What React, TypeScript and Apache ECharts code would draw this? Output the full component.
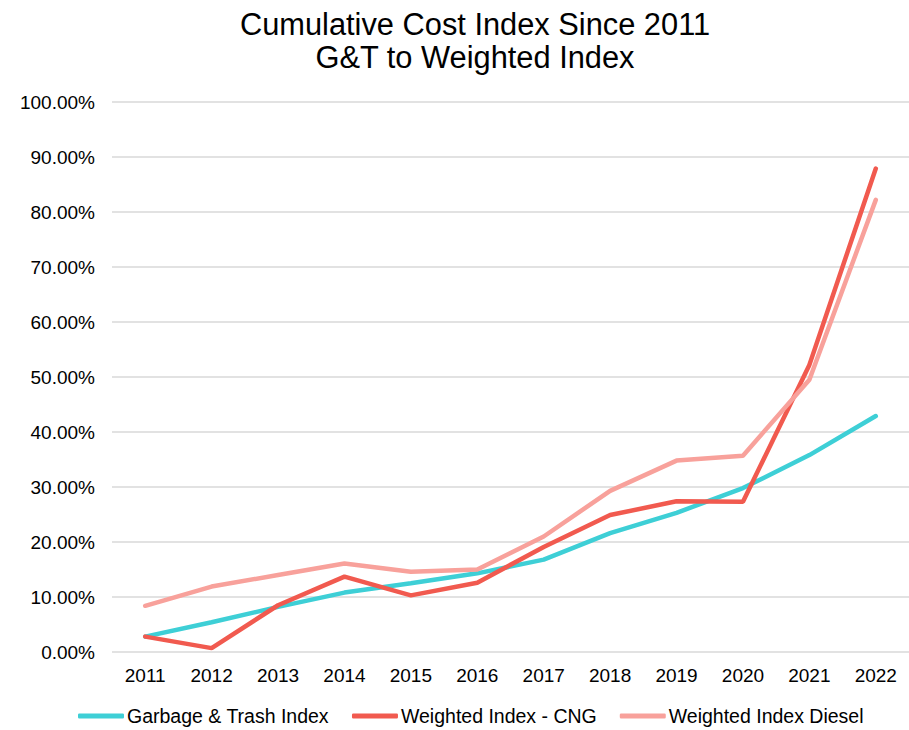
import React, { useEffect, useRef } from "react";
import * as echarts from "echarts";

const years = ["2011","2012","2013","2014","2015","2016","2017","2018","2019","2020","2021","2022"];
const garbage = [2.8, 5.4, 8.2, 10.8, 12.5, 14.3, 16.8, 21.6, 25.3, 29.8, 35.8, 42.9];
const cng = [2.8, 0.7, 8.5, 13.7, 10.3, 12.6, 19.1, 24.9, 27.4, 27.3, 52.2, 87.9];
const diesel = [8.4, 11.9, 14.0, 16.1, 14.6, 15.0, 21.0, 29.3, 34.8, 35.7, 49.5, 82.2];
const seriesNames = ["Garbage & Trash Index", "Weighted Index - CNG", "Weighted Index Diesel"];
const colors = ["#3ecfd6", "#f15a4f", "#f8a19b"];

export default function App() {
  const ref = useRef<HTMLDivElement>(null);
  useEffect(() => {
    const chart = echarts.init(ref.current!, undefined, { renderer: "svg" });
    const font = "Liberation Sans";
    const data = [garbage, cng, diesel];
    chart.setOption({
      animation: false,
      textStyle: { fontFamily: font },
      title: {
        text: "Cumulative Cost Index Since 2011\nG&T to Weighted Index",
        left: 470,
        top: 3,
        textAlign: "center",
        textStyle: { fontFamily: font, fontSize: 30.8, fontWeight: "normal", color: "#000", lineHeight: 33 },
      },
      legend: {
        bottom: -1,
        left: 73,
        itemWidth: 46,
        itemHeight: 5,
        itemGap: 23,
        icon: "roundRect",
        textStyle: { fontFamily: font, fontSize: 19.5, color: "#000", padding: [0, 0, 0, -2] },
        data: seriesNames,
      },
      grid: { left: 112, right: -2, top: 102, bottom: 78 },
      xAxis: {
        type: "category",
        data: years,
        boundaryGap: true,
        axisLine: { show: false },
        axisTick: { show: false },
        axisLabel: { fontFamily: font, fontSize: 19, color: "#000", margin: 14 },
      },
      yAxis: {
        type: "value",
        min: 0,
        max: 100,
        interval: 10,
        axisLabel: { fontFamily: font, fontSize: 19, color: "#000", margin: 17, formatter: (v: number) => v.toFixed(2) + "%" },
        splitLine: { lineStyle: { color: "#d9d9d9", width: 1.5 } },
        axisLine: { show: false },
        axisTick: { show: false },
      },
      series: seriesNames.map((n, i) => ({
        name: n,
        type: "line",
        data: data[i],
        showSymbol: false,
        symbol: "none",
        lineStyle: { color: colors[i], width: 4.5, cap: "round" },
        itemStyle: { color: colors[i] },
      })),
    });
    return () => chart.dispose();
  }, []);
  return <div ref={ref} style={{ position: "absolute", left: 0, top: 0, width: 909, height: 730 }} />;
}
